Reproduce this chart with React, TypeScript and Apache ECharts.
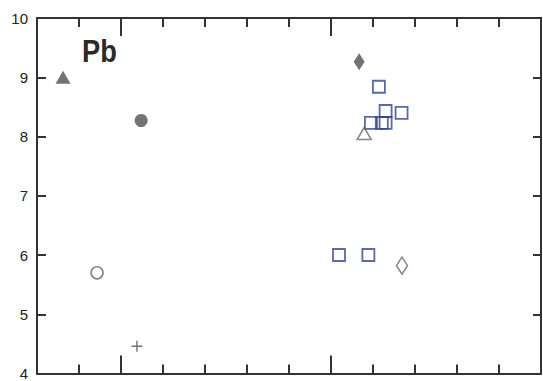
import React, { useEffect, useRef } from "react";
import * as echarts from "echarts";

const yTicks = [4, 5, 6, 7, 8, 9, 10];
const xMajorTicks = [5, 10, 15];
const triFilled = [[3.62, 9.0]];
const circleFilled = [[5.48, 8.27]];
const circleOpen = [[4.43, 5.7]];
const plusPts = [[5.38, 4.46]];
const diamondFilled = [[10.67, 9.26]];
const triOpen = [[10.79, 8.05]];
const diamondOpen = [[11.69, 5.82]];
const squares = [
  [10.19, 6.0],
  [10.89, 6.0],
  [11.14, 8.84],
  [11.3, 8.43],
  [11.68, 8.4],
  [10.95, 8.23],
  [11.21, 8.23],
  [11.3, 8.23],
];
const elementLabel = "Pb";

const AX = "#333";
const MARK = "#505050";
const BLUE = "#34448a";

export default function App() {
  const ref = useRef<HTMLDivElement>(null);
  useEffect(() => {
    const chart = echarts.init(ref.current!, undefined, { renderer: "svg" });
    const baseX = (pos: "top" | "bottom", long: boolean) => ({
      type: "value",
      position: pos,
      min: 3,
      max: 15,
      interval: 1,
      axisLine: { show: !long, lineStyle: { color: AX, width: 2 } },
      axisTick: long
        ? { show: true, inside: true, length: 18, customValues: xMajorTicks, lineStyle: { color: AX, width: 2 } }
        : { show: true, inside: true, length: 9, lineStyle: { color: AX, width: 2 } },
      axisLabel: { show: false },
      splitLine: { show: false },
    });
    chart.setOption({
      animation: false,
      backgroundColor: "#fff",
      grid: { left: 37, right: 2, top: 18, bottom: 6, containLabel: false },
      xAxis: [baseX("bottom", false), baseX("bottom", true), baseX("top", false), baseX("top", true)],
      yAxis: [
        {
          type: "value",
          position: "left",
          min: yTicks[0],
          max: yTicks[yTicks.length - 1],
          interval: 1,
          axisLine: { show: true, lineStyle: { color: AX, width: 2 } },
          axisTick: { show: true, inside: true, length: 9, lineStyle: { color: AX, width: 2 } },
          axisLabel: { show: true, margin: 9, color: "#222", fontSize: 15, fontFamily: "Liberation Sans, Arial, sans-serif" },
          splitLine: { show: false },
        },
        {
          type: "value",
          position: "right",
          min: yTicks[0],
          max: yTicks[yTicks.length - 1],
          interval: 1,
          axisLine: { show: true, lineStyle: { color: AX, width: 2 } },
          axisTick: { show: true, inside: true, length: 8, lineStyle: { color: AX, width: 2 } },
          axisLabel: { show: false },
          splitLine: { show: false },
        },
      ],
      graphic: [
        {
          type: "text",
          left: 82,
          top: 36,
          scaleX: 0.88,
          style: {
            text: elementLabel,
            fontSize: 31,
            fontWeight: "bold",
            fontFamily: "Liberation Sans, Arial, sans-serif",
            fill: "#2a2a2a",
          },
        },
      ],
      series: [
        {
          type: "scatter",
          data: triFilled,
          symbol: "triangle",
          symbolSize: [15, 13],
          itemStyle: { color: MARK },
        },
        {
          type: "scatter",
          data: circleFilled,
          symbol: "circle",
          symbolSize: 13,
          itemStyle: { color: MARK },
        },
        {
          type: "scatter",
          data: circleOpen,
          symbol: "circle",
          symbolSize: 12,
          itemStyle: { color: "transparent", borderColor: "#666", borderWidth: 1.6 },
        },
        {
          type: "scatter",
          data: plusPts,
          symbol: "path://M5 0 L5 10 M0 5 L10 5",
          symbolSize: 11,
          itemStyle: { color: "transparent", borderColor: MARK, borderWidth: 1.4 },
        },
        {
          type: "scatter",
          data: diamondFilled,
          symbol: "diamond",
          symbolSize: [11, 17],
          itemStyle: { color: MARK },
        },
        {
          type: "scatter",
          data: squares,
          symbol: "rect",
          symbolSize: 12,
          itemStyle: { color: "transparent", borderColor: BLUE, borderWidth: 1.8 },
        },
        {
          type: "scatter",
          data: triOpen,
          symbol: "triangle",
          symbolSize: [14, 12],
          itemStyle: { color: "transparent", borderColor: "#666", borderWidth: 1.6 },
        },
        {
          type: "scatter",
          data: diamondOpen,
          symbol: "diamond",
          symbolSize: [11, 17],
          itemStyle: { color: "transparent", borderColor: "#666", borderWidth: 1.6 },
        },
      ],
    });
    return () => chart.dispose();
  }, []);
  return (
    <div
      ref={ref}
      style={{ position: "fixed", left: 0, top: 0, width: 543, height: 381, background: "#fff" }}
    />
  );
}
